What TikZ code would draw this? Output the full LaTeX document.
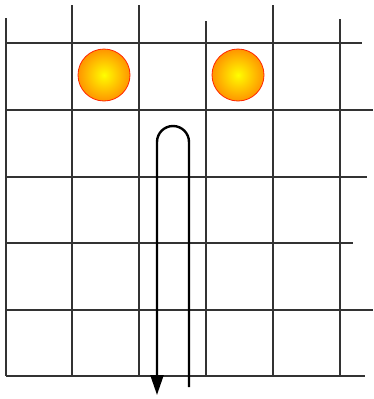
\documentclass[tikz,border=0pt]{standalone}
\usetikzlibrary{arrows.meta}

\pgfdeclareradialshading{sunball}{\pgfpoint{0bp}{0bp}}{%
  color(0bp)=(yellow); color(4bp)=(yellow!85!orange);
  color(18bp)=(orange!60!yellow); color(27bp)=(orange!90!yellow);
  color(50bp)=(orange!90!yellow)}

\begin{document}
\begin{tikzpicture}[
  x=1pt, y=-1pt,
  gridline/.style={black!80, line width=1.2pt},
  ball/.style={circle, minimum size=52pt, inner sep=0pt, shading=sunball,
    draw=red!70!orange, line width=0.8pt},
  track/.style={black, line width=2.4pt}
]
\useasboundingbox (0,0) rectangle (373,399);

% -------------------------
% GRID (ragged ends)
% -------------------------

\draw[gridline] (6,18) -- (6,376);
\draw[gridline] (72,5) -- (72,376);
\draw[gridline] (139,5) -- (139,376);
\draw[gridline] (206,21) -- (206,376);
\draw[gridline] (273,5) -- (273,376);
\draw[gridline] (340,19) -- (340,376);

\draw[gridline] (6,43) -- (362,43);
\draw[gridline] (6,110) -- (373,110);
\draw[gridline] (6,177) -- (367,177);
\draw[gridline] (6,243) -- (353,243);
\draw[gridline] (6,310) -- (373,310);
\draw[gridline] (6,376) -- (365,376);

% -------------------------
% BALLS
% -------------------------

\node[ball] (ballL) at (104,75) {};
\node[ball] (ballR) at (238,75) {};

% -------------------------
% U-TURN PATH
% -------------------------

\coordinate (trackin) at (189,387);
\coordinate (trackout) at (157,395);

\draw[track, -{Triangle[length=20pt, width=13pt]}]
  (trackin) -- (189,142) arc[start angle=0, end angle=-180, radius=16]
  -- (trackout);

\end{tikzpicture}
\end{document}
